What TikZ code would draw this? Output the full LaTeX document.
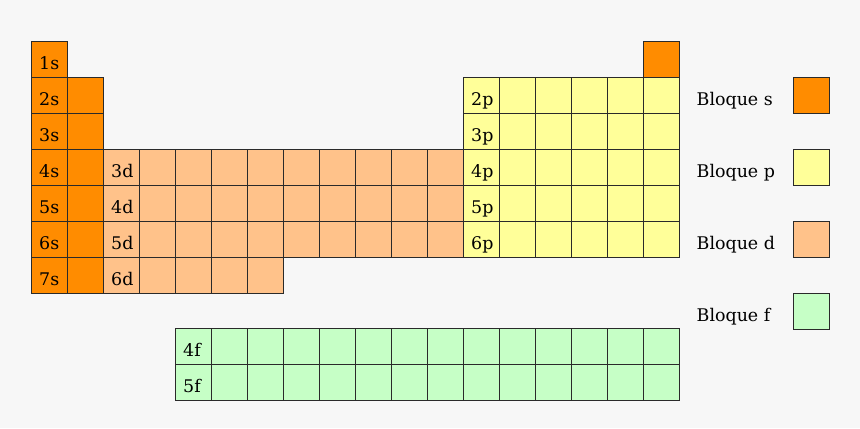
\documentclass[tikz,border=0pt]{standalone}
\usepackage{fontspec}
\setmainfont{DejaVu Serif}
\usetikzlibrary{calc}
\definecolor{bg}{HTML}{F7F7F7}
\definecolor{sblk}{HTML}{FF8C00}
\definecolor{pblk}{HTML}{FFFF99}
\definecolor{dblk}{HTML}{FFC28A}
\definecolor{fblk}{HTML}{C6FFC6}
\definecolor{edge}{HTML}{2A2A2A}
\begin{document}
\begin{tikzpicture}[x=1bp,y=-1bp,
  cell/.style={draw=edge, line width=0.9bp, minimum size=36bp, inner sep=0pt, outer sep=0pt},
  lbl/.style={inner sep=0pt, anchor=base west, font=\fontsize{17.5}{20}\selectfont, text=black}]
\fill[bg] (0,0) rectangle (860,428);
\useasboundingbox (0,0) rectangle (860,428);
% s block
\foreach \r in {1,...,7} \node[cell, fill=sblk] (s-\r-1) at ({13+36*1},{23+36*\r}) {};
\foreach \r in {2,...,7} \node[cell, fill=sblk] (s-\r-2) at ({13+36*2},{23+36*\r}) {};
\node[cell, fill=sblk] (s-1-18) at ({13+36*18},{23+36*1}) {};
% p block
\foreach \r in {2,...,6} \foreach \c in {13,...,18}
  \node[cell, fill=pblk] (p-\r-\c) at ({13+36*\c},{23+36*\r}) {};
% d block
\foreach \r in {4,5,6} \foreach \c in {3,...,12}
  \node[cell, fill=dblk] (d-\r-\c) at ({13+36*\c},{23+36*\r}) {};
\foreach \c in {3,...,7}
  \node[cell, fill=dblk] (d-7-\c) at ({13+36*\c},{23+36*7}) {};
% f block
\foreach \r/\y in {1/346,2/382} \foreach \c in {5,...,18}
  \node[cell, fill=fblk] (f-\r-\c) at ({13+36*\c},\y) {};
% labels
\foreach \r in {1,...,7} \node[lbl] (ls\r) at ($(s-\r-1.west)+(8,10)$) {\r s};
\foreach \r/\n in {4/3,5/4,6/5,7/6} \node[lbl] (ld\n) at ($(d-\r-3.west)+(8,10)$) {\n d};
\foreach \r in {2,...,6} \node[lbl] (lp\r) at ($(p-\r-13.west)+(8,10)$) {\r p};
\node[lbl] (lf4) at ($(f-1-5.west)+(8,10)$) {4f};
\node[lbl] (lf5) at ($(f-2-5.west)+(8,10)$) {5f};
% legend
\foreach \k/\y/\col in {s/95/sblk,p/167/pblk,d/239/dblk,f/311/fblk}{
  \node[cell, fill=\col] (leg-\k) at (811,\y) {};
  \node[lbl] (legt-\k) at ($(leg-\k.west)+(-96.5,10)$) {Bloque \k};
}
\end{tikzpicture}
\end{document}
